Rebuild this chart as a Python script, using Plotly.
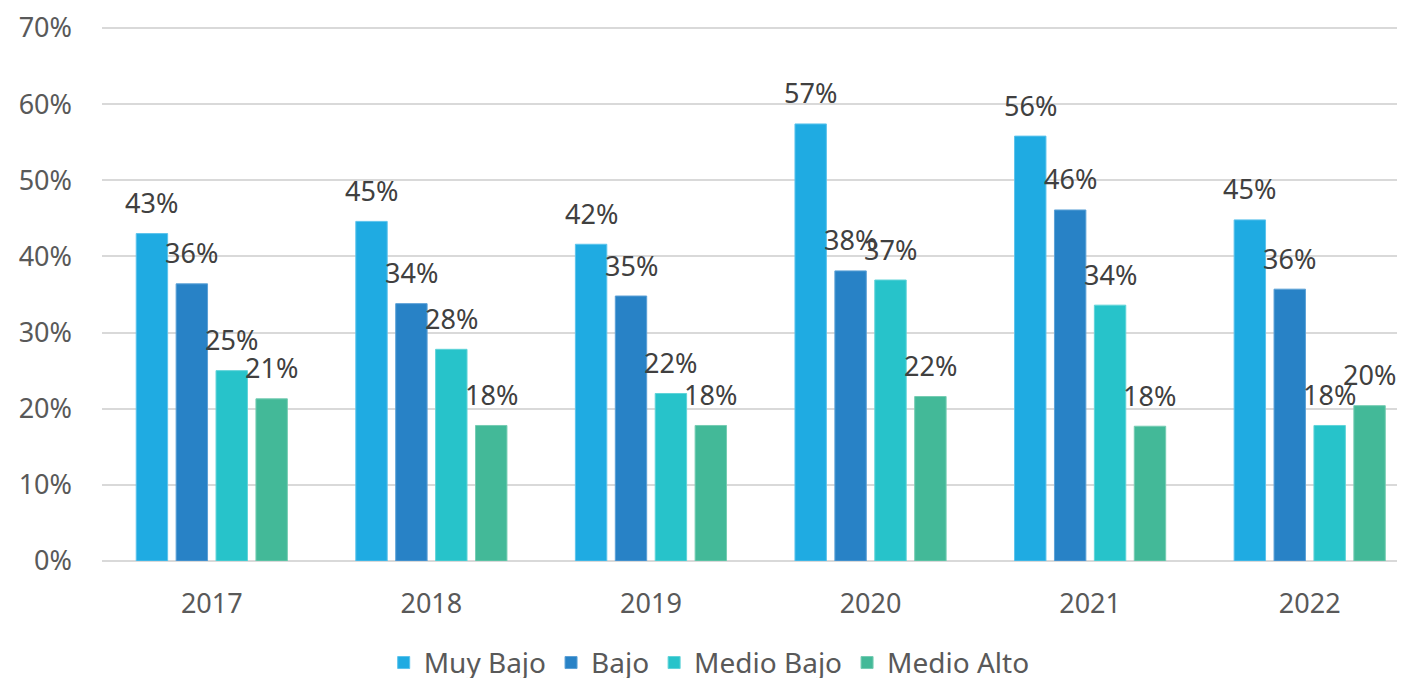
import plotly.graph_objects as go

years = ["2017", "2018", "2019", "2020", "2021", "2022"]
series_names = ["Muy Bajo", "Bajo", "Medio Bajo", "Medio Alto"]
muy_bajo = [43.0, 44.6, 41.6, 57.4, 55.8, 44.8]
bajo = [36.4, 33.8, 34.8, 38.1, 46.1, 35.7]
medio_bajo = [25.0, 27.8, 22.0, 36.9, 33.6, 17.8]
medio_alto = [21.3, 17.8, 17.8, 21.6, 17.7, 20.4]
y_ticks = [0, 10, 20, 30, 40, 50, 60, 70]

series_values = [muy_bajo, bajo, medio_bajo, medio_alto]
colors = ["#1FABE2", "#2882C6", "#27C3CA", "#43B998"]
edge_colors = ["#5CC3EC", "#5CA1D6", "#5FD3D8", "#75CCB2"]

FONT = "Noto Sans"
BARGAP = 0.273
GROUPGAP = 0.213
n = len(series_names)
slot = (1 - BARGAP) / n

fig = go.Figure()
for i, (name, vals) in enumerate(zip(series_names, series_values)):
    fig.add_trace(go.Bar(
        name=name,
        x=list(range(len(years))),
        y=[v / 100 for v in vals],
        marker=dict(color=colors[i], line=dict(color=edge_colors[i], width=1)),
        hoverinfo="skip",
    ))
    for j, v in enumerate(vals):
        fig.add_annotation(
            x=j + (i - (n - 1) / 2) * slot,
            y=v / 100,
            xref="x", yref="y",
            text=f"{v:.0f}%",
            showarrow=False,
            yanchor="middle",
            yshift=31,
            font=dict(family=FONT, size=27, color="#404040"),
        )

fig.update_layout(
    width=1397, height=670,
    margin=dict(l=94, r=0, t=17, b=117, autoexpand=False),
    paper_bgcolor="white",
    plot_bgcolor="white",
    barmode="group",
    bargap=BARGAP,
    bargroupgap=GROUPGAP,
    font=dict(family=FONT, size=27, color="#595959"),
    showlegend=True,
    legend=dict(
        orientation="h",
        x=0.466, xanchor="center",
        y=-0.19, yanchor="middle",
        font=dict(family=FONT, size=28, color="#595959"),
        itemclick=False,
    ),
    xaxis=dict(
        tickmode="array",
        tickvals=list(range(len(years))),
        ticktext=years,
        range=[-0.5, 5.434],
        automargin=False,
        showgrid=False,
        showline=False,
        zeroline=False,
        ticks="",
        ticklabelstandoff=24,
        tickfont=dict(family=FONT, size=27, color="#595959"),
    ),
    yaxis=dict(
        range=[0, 0.70394],
        automargin=False,
        tickvals=[t / 100 for t in y_ticks],
        tickformat=".0%",
        showgrid=True,
        gridcolor="#D9D9D9",
        gridwidth=2,
        zeroline=True,
        zerolinecolor="#D9D9D9",
        zerolinewidth=2,
        showline=False,
        ticks="",
        ticklabelstandoff=29,
        tickfont=dict(family=FONT, size=27, color="#595959"),
    ),
)

fig.write_html("out.html")
